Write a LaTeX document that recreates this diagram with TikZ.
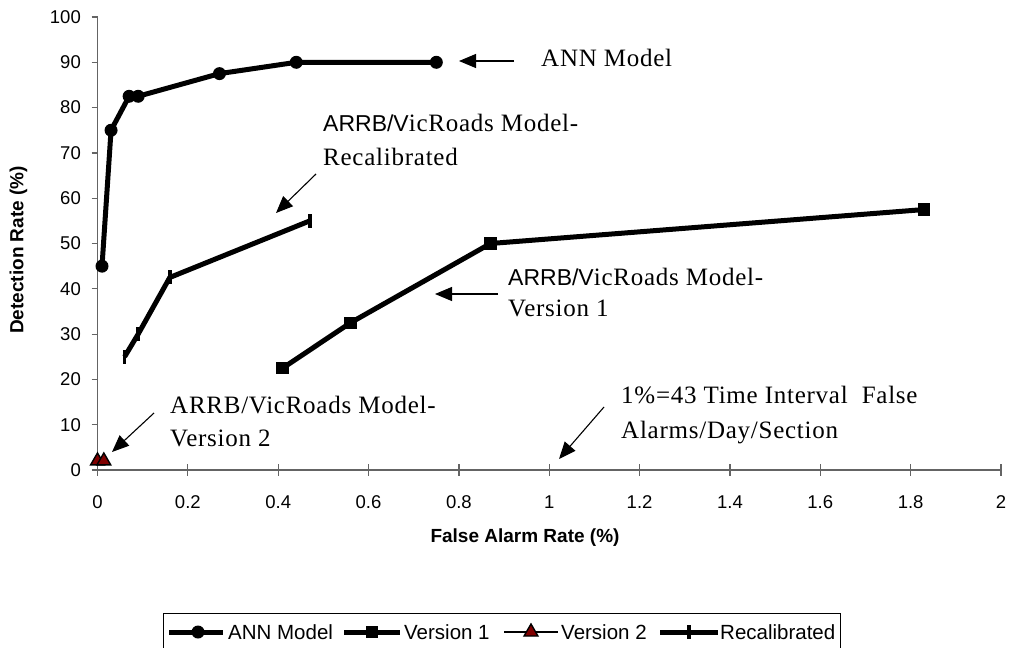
\documentclass[tikz,border=0pt]{standalone}
\usepackage{fontspec}
\setmainfont{Liberation Serif}
\newfontfamily\arialf{Liberation Sans}
\newfontfamily\annf[LetterSpace=3]{Liberation Serif}
\usetikzlibrary{arrows.meta,shapes.geometric}
\definecolor{darkred}{RGB}{128,0,0}
\definecolor{axisgray}{RGB}{100,100,100}
\begin{document}
\begin{tikzpicture}[x=1pt,y=-1pt,
  axisline/.style={draw=axisgray, line width=1.2pt},
  ticklbl/.style={font=\arialf\fontsize{18.5}{20}\selectfont, inner sep=0pt},
  axtitle/.style={font=\arialf\bfseries\fontsize{19}{21}\selectfont, inner sep=0pt},
  series/.style={line width=5pt, line join=round},
  circmark/.style={circle, fill=black, minimum size=13pt, inner sep=0pt},
  sqmark/.style={rectangle, fill=black, minimum size=12.5pt, inner sep=0pt},
  trimark/.style={regular polygon, regular polygon sides=3, minimum size=16pt, inner sep=0pt, fill=darkred, draw=black, line width=1.4pt},
  barmark/.style={rectangle, fill=black, minimum width=3.5pt, minimum height=14pt, inner sep=0pt},
  annot/.style={font=\annf\fontsize{25}{30}\selectfont, inner sep=0pt},
  annarrow/.style={-{Triangle[length=17pt,width=14pt]}, line width=1.1pt},
  legtext/.style={font=\arialf\fontsize{20.5}{22}\selectfont, inner sep=0pt, anchor=west},
]
\useasboundingbox (0,0) rectangle (1010,648);
\fill[white] (0,0) rectangle (1010,648);

% axes
\coordinate (yTop) at (97.5,17);
\coordinate (orig) at (97.5,470);
\coordinate (xEnd) at (1001,470);
\draw[axisline] (yTop) -- (orig) -- (xEnd);
\foreach \v in {0,10,...,100} {
  \draw[axisline] (91.5,{470-4.53*\v}) -- (97.5,{470-4.53*\v});
  \node[ticklbl, anchor=east] (yl\v) at (81,{470-4.53*\v}) {\v};
}
\foreach \v/\t [count=\i from 0] in {0/0,0.2/0.2,0.4/0.4,0.6/0.6,0.8/0.8,1/1,1.2/1.2,1.4/1.4,1.6/1.6,1.8/1.8,2/2} {
  \draw[axisline] ({97.5+451.75*\v},464) -- ({97.5+451.75*\v},476);
  \node[ticklbl] (xl\i) at ({97.5+451.75*\v},502) {\t};
}
\node[axtitle] (xtitle) at (525,538) {False Alarm Rate (\%)};
\node[axtitle, rotate=90] (ytitle) at (18.5,250) {Detection Rate (\%)};

% data
\begin{scope}[shift={(97.5,470)}, x=451.75pt, y=4.53pt]
  \coordinate (a1) at (0.01,45);
  \coordinate (a2) at (0.03,75);
  \coordinate (a3) at (0.07,82.5);
  \coordinate (a4) at (0.09,82.5);
  \coordinate (a5) at (0.27,87.5);
  \coordinate (a6) at (0.44,90);
  \coordinate (a7) at (0.75,90);
  \coordinate (b1) at (0.41,22.5);
  \coordinate (b2) at (0.56,32.5);
  \coordinate (b3) at (0.87,50);
  \coordinate (b4) at (1.83,57.5);
  \coordinate (c1) at (0,2);
  \coordinate (c2) at (0.014,2);
  \coordinate (d1) at (0.06,25);
  \coordinate (d2) at (0.09,30);
  \coordinate (d3) at (0.16,42.5);
  \coordinate (d4) at (0.47,55);
  \draw[series] (a1) -- (a2) -- (a3) -- (a4) -- (a5) -- (a6) -- (a7);
  \draw[series] (b1) -- (b2) -- (b3) -- (b4);
  \draw[series] (d1) -- (d2) -- (d3) -- (d4);
  \draw[line width=2.5pt] (c1) -- (c2);
  \foreach \n in {a1,a2,a3,a4,a5,a6,a7} \node[circmark] (m\n) at (\n) {};
  \foreach \n in {b1,b2,b3,b4} \node[sqmark] (m\n) at (\n) {};
  \foreach \n in {d1,d2,d3,d4} \node[barmark] (m\n) at (\n) {};
  \foreach \n in {c1,c2} \node[trimark] (m\n) at (\n) {};
\end{scope}

% annotations
\node[annot, anchor=base west] (annLbl) at (541,66) {ANN Model};
\coordinate (annT) at (514,61);
\coordinate (annH) at (459,61);
\draw[annarrow] (annT) -- (annH);

\node[annot, anchor=base west] (recA) at (323,131) {{\arialf\fontsize{23}{28}\selectfont ARRB/V}icRoads Model-};
\node[annot, anchor=base west] (recB) at (323,165) {Recalibrated};
\coordinate (recT) at (316,174);
\coordinate (recH) at (276,213);
\draw[annarrow] (recT) -- (recH);

\node[annot, anchor=base west] (v1A) at (508,285) {{\arialf\fontsize{23}{28}\selectfont ARRB/V}icRoads Model-};
\node[annot, anchor=base west] (v1B) at (508,316) {Version 1};
\coordinate (v1T) at (498,294);
\coordinate (v1H) at (435,294);
\draw[annarrow] (v1T) -- (v1H);

\node[annot, anchor=base west] (v2A) at (170,413) {ARRB/VicRoads Model-};
\node[annot, anchor=base west] (v2B) at (170,446) {Version 2};
\coordinate (v2T) at (154,413);
\coordinate (v2H) at (112,452);
\draw[annarrow] (v2T) -- (v2H);

\node[annot, anchor=base west] (pcA) at (621,403) {1\%=43 Time Interval~ False};
\node[annot, anchor=base west] (pcB) at (621,438) {Alarms/Day/Section};
\coordinate (pcT) at (604,407);
\coordinate (pcH) at (559,459);
\draw[annarrow] (pcT) -- (pcH);

% legend (bottom edge falls just outside the picture, as in the reference)
\node[draw=black, line width=1pt, minimum width=677pt, minimum height=40pt, inner sep=0pt, anchor=north west] (legend) at (163,613) {};
\coordinate (l1a) at (169,632); \coordinate (l1b) at (223,632);
\draw[line width=5pt] (l1a) -- (l1b);
\node[circmark] (lm1) at (198,632) {};
\node[legtext] (lt1) at (228,632) {ANN Model};
\coordinate (l2a) at (344,632); \coordinate (l2b) at (400,632);
\draw[line width=5pt] (l2a) -- (l2b);
\node[sqmark] (lm2) at (372,632) {};
\node[legtext] (lt2) at (404,632) {Version 1};
\coordinate (l3a) at (504,632); \coordinate (l3b) at (558,632);
\draw[line width=2.5pt] (l3a) -- (l3b);
\node[trimark] (lm3) at (531,632) {};
\node[legtext] (lt3) at (561,632) {Version 2};
\coordinate (l4a) at (660,632); \coordinate (l4b) at (718,632);
\draw[line width=5pt] (l4a) -- (l4b);
\node[barmark] (lm4) at (689,632) {};
\node[legtext] (lt4) at (720,632) {Recalibrated};
\end{tikzpicture}
\end{document}
